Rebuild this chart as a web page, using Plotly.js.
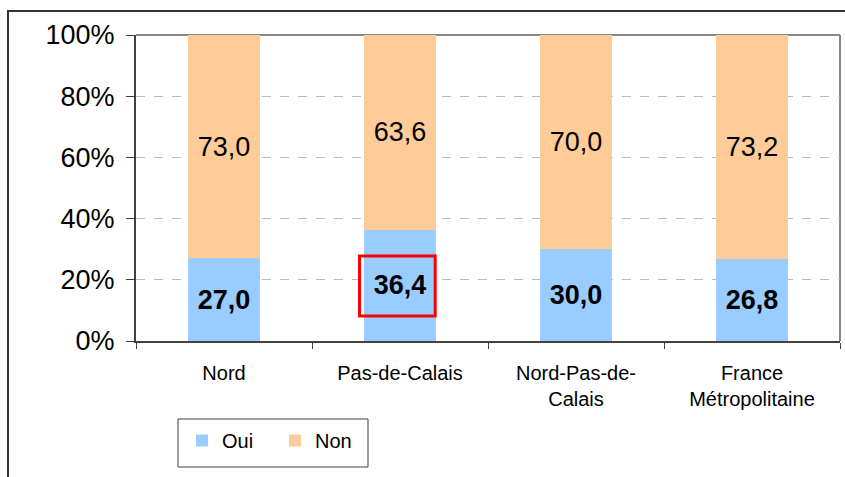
<!DOCTYPE html>
<html>
<head>
<meta charset="utf-8">
<script src="https://cdn.plot.ly/plotly-3.0.1.min.js"></script>
<style>
html,body{margin:0;padding:0;background:#fff;}
#chart{width:845px;height:477px;}
</style>
</head>
<body>
<div id="chart"></div>
<script>
var categories = ["Nord", "Pas-de-Calais", "Nord-Pas-de-<br>Calais", "France<br>Métropolitaine"];
var oui = [27.0, 36.4, 30.0, 26.8];
var non = [73.0, 63.6, 70.0, 73.2];
var yTickVals = [0, 20, 40, 60, 80, 100];
var yTickText = ["0%", "20%", "40%", "60%", "80%", "100%"];
var highlightIndex = 1;

var L = 136, R = 840, T = 35, B = 341, W = 845, H = 477;
function px(x){ return (x - L) / (R - L); }
function py(y){ return (B - y) / (B - T); }

var font = "Liberation Sans, Arial, sans-serif";

var traces = [
  {
    type: "bar", name: "Oui", x: categories, y: oui,
    marker: {color: "#99CCFF"}, width: 0.41,
    texttemplate: "<b>%{y:.1f}</b>", textposition: "inside",
    insidetextanchor: "middle", textangle: 0, constraintext: "none",
    insidetextfont: {family: font, size: 27, color: "#000"},
    hoverinfo: "none"
  },
  {
    type: "bar", name: "Non", x: categories, y: non,
    marker: {color: "#FFCC99"}, width: 0.41,
    texttemplate: "%{y:.1f}", textposition: "inside",
    insidetextanchor: "middle", textangle: 0, constraintext: "none",
    insidetextfont: {family: font, size: 27, color: "#000"},
    hoverinfo: "none"
  }
];

var layout = {
  width: W, height: H,
  margin: {l: L, r: W - R, t: T, b: H - B, pad: 0},
  barmode: "stack",
  separators: ", ",
  paper_bgcolor: "#fff", plot_bgcolor: "#fff",
  font: {family: font, color: "#000"},
  showlegend: true,
  legend: {
    orientation: "h", x: px(182), y: py(421), xanchor: "left", yanchor: "top",
    borderwidth: 0, bgcolor: "rgba(0,0,0,0)",
    font: {family: font, size: 20, color: "#000"},
    traceorder: "normal", entrywidth: 48, itemclick: false
  },
  xaxis: {
    type: "category", tickson: "boundaries", ticks: "outside", ticklen: 6,
    tickcolor: "#404040", tickwidth: 1,
    showline: true, linecolor: "#404040", linewidth: 2,
    showgrid: false, zeroline: false, ticklabelstandoff: 13,
    tickfont: {family: font, size: 20, color: "#000"},
    range: [-0.5, 3.5], fixedrange: true
  },
  yaxis: {
    range: [0, 100], tickmode: "array", tickvals: yTickVals, ticktext: yTickText,
    ticks: "outside", ticklen: 8, tickcolor: "#404040", tickwidth: 1,
    showline: true, linecolor: "#404040", linewidth: 2,
    showgrid: true, gridcolor: "#BBBBBB", griddash: "dash", gridwidth: 1,
    zeroline: false, ticklabelstandoff: 6,
    tickfont: {family: font, size: 27, color: "#000"},
    fixedrange: true
  },
  shapes: [
    {type: "line", xref: "paper", yref: "paper", x0: 0, x1: 1, y0: 1, y1: 1,
     line: {color: "#888888", width: 2}, layer: "below"},
    {type: "line", xref: "paper", yref: "paper", x0: 1, x1: 1, y0: 0, y1: 1,
     line: {color: "#888888", width: 2}, layer: "below"},
    {type: "path", xref: "paper", yref: "paper",
     path: "M " + px(8) + " " + py(490) + " L " + px(8) + " " + py(11) + " L " + px(860) + " " + py(11),
     line: {color: "#333333", width: 2}},
    {type: "rect", xref: "paper", yref: "paper",
     x0: px(178), x1: px(368), y0: py(467), y1: py(419),
     line: {color: "#404040", width: 1}},
    {type: "rect", xref: "x", yref: "y",
     x0: highlightIndex - 0.23, x1: highlightIndex + 0.20, y0: 8.2, y1: 27.8,
     line: {color: "#FF0000", width: 3}}
  ]
};

Plotly.newPlot("chart", traces, layout, {staticPlot: true, displayModeBar: false});
</script>
</body>
</html>
